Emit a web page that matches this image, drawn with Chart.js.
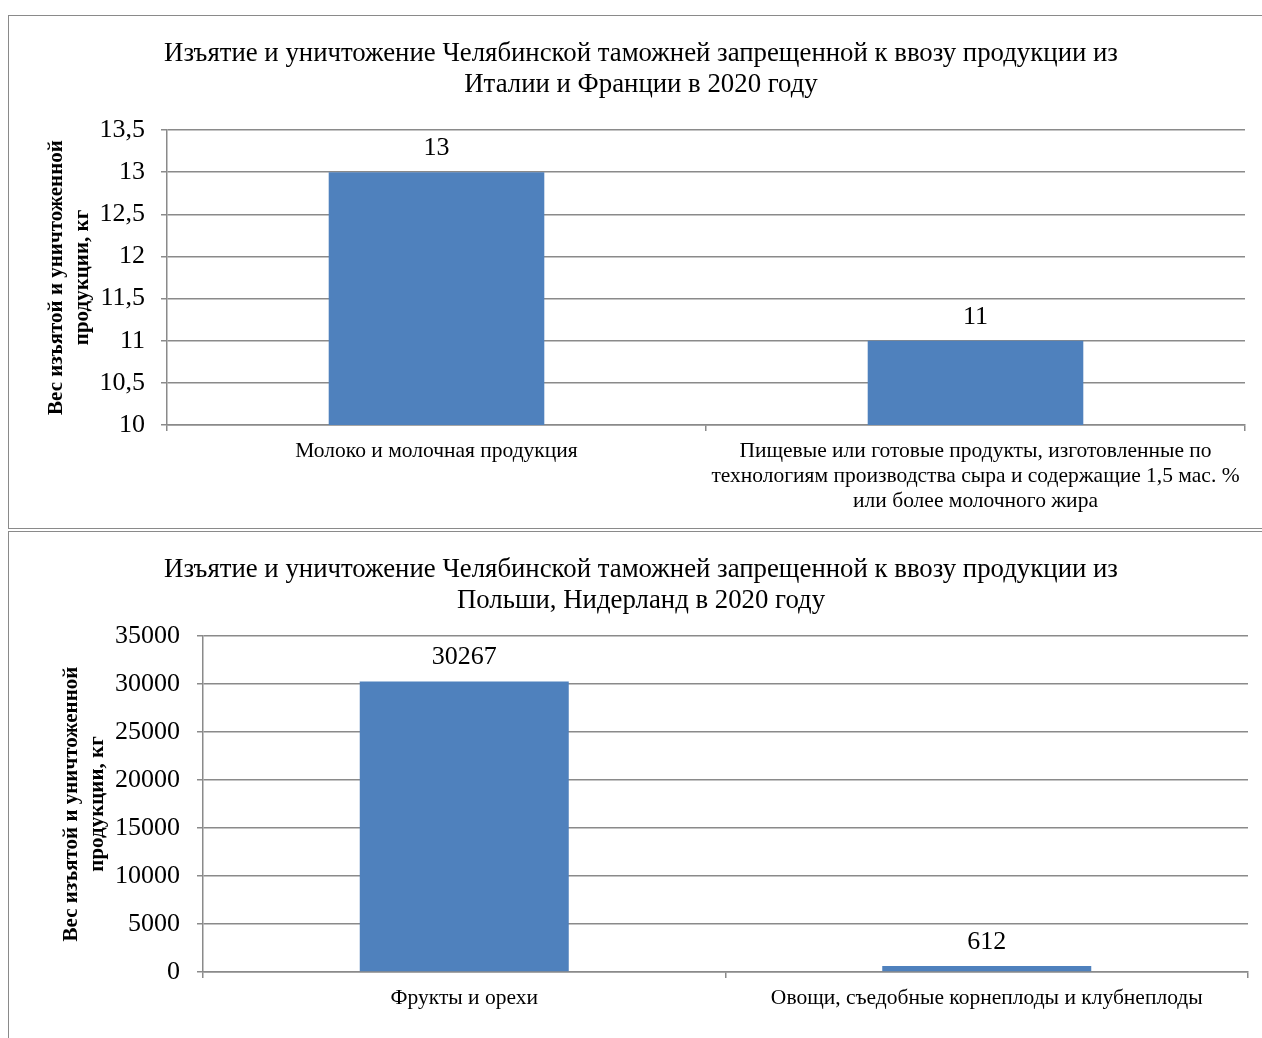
<!DOCTYPE html>
<html>
<head>
<meta charset="utf-8">
<script src="https://cdn.jsdelivr.net/npm/chart.js@4/dist/chart.umd.min.js"></script>
<style>
  html, body { margin: 0; padding: 0; background: #fff; overflow: hidden; }
  body { width: 1262px; height: 1038px; position: relative; }
  .frame-top { position: absolute; left: 8px; top: 15px; width: 1300px; height: 512px; border: 1.5px solid #8a8a8a; }
  .frame-bot { position: absolute; left: 8px; top: 531px; width: 1300px; height: 600px; border-left: 1.5px solid #8a8a8a; border-top: 1.5px solid #8a8a8a; }
  canvas { position: absolute; }
</style>
</head>
<body>
<div class="frame-top"></div>
<div class="frame-bot"></div>
<canvas id="c1" width="1253" height="511" style="left:9px;top:16px;width:1253px;height:511px"></canvas>
<canvas id="c2" width="1253" height="505" style="left:9px;top:533px;width:1253px;height:505px"></canvas>
<script>
const topTitle = ['Изъятие и уничтожение Челябинской таможней запрещенной к ввозу продукции из', 'Италии и Франции в 2020 году'];
const topCategories = [
  ['Молоко и молочная продукция'],
  ['Пищевые или готовые продукты, изготовленные по', 'технологиям производства сыра и содержащие 1,5 мас. %', 'или более молочного жира']
];
const topValues = [13, 11];
const topTicks = ['10', '10,5', '11', '11,5', '12', '12,5', '13', '13,5'];

const botTitle = ['Изъятие и уничтожение Челябинской таможней запрещенной к ввозу продукции из', 'Польши, Нидерланд в 2020 году'];
const botCategories = ['Фрукты и орехи', 'Овощи, съедобные корнеплоды и клубнеплоды'];
const botValues = [30267, 612];
const botTicks = ['0', '5000', '10000', '15000', '20000', '25000', '30000', '35000'];

const yTitle = ['Вес изъятой и уничтоженной', 'продукции, кг'];

const GRID = '#8a8a8a';
const BAR = '#4f81bd';
Chart.defaults.font.family = "'Liberation Serif', 'Times New Roman', serif";
Chart.defaults.color = '#000';

const valueLabels = {
  id: 'valueLabels',
  afterDatasetsDraw(chart) {
    const { ctx } = chart;
    const meta = chart.getDatasetMeta(0);
    ctx.save();
    ctx.font = "26px 'Liberation Serif', serif";
    ctx.fillStyle = '#000';
    ctx.textAlign = 'center';
    ctx.textBaseline = 'middle';
    meta.data.forEach((bar, i) => {
      ctx.fillText(String(chart.data.datasets[0].data[i]), bar.x, bar.y - 24);
    });
    ctx.restore();
  }
};

function makeChart(id, o) {
  return new Chart(document.getElementById(id), {
    type: 'bar',
    data: {
      labels: o.labels,
      datasets: [{ data: o.values, backgroundColor: BAR, categoryPercentage: 1, barPercentage: 0.4 }]
    },
    options: {
      responsive: false, animation: false,
      layout: { padding: { left: o.padLeft, right: o.padRight, top: 0, bottom: 0 } },
      plugins: {
        legend: { display: false }, tooltip: { enabled: false },
        title: {
          display: true, text: o.title, color: '#000',
          font: { size: 26.8, weight: 'normal', lineHeight: '31px' },
          padding: { top: o.titleTop, bottom: o.titleBottom }
        }
      },
      scales: {
        x: {
          grid: { drawOnChartArea: false, drawTicks: true, tickLength: 6, color: GRID, lineWidth: 1.5, offset: true },
          border: { display: true, color: GRID, width: 1.5 },
          ticks: { color: '#000', font: { size: 21.5, lineHeight: '25px' }, padding: 8, maxRotation: 0, autoSkip: false },
          afterFit: s => { s.height = o.xHeight; }
        },
        y: {
          min: o.min, max: o.max,
          grid: { color: GRID, lineWidth: 1.5, tickLength: 6 },
          border: { display: true, color: GRID, width: 1.5 },
          ticks: { stepSize: o.step, color: '#000', font: { size: 26 }, padding: o.tickPad, callback: (v, i) => o.ticks[i] },
          title: {
            display: true, text: yTitle, color: '#000',
            font: { size: 21, weight: 'bold', lineHeight: '26px' },
            padding: { top: o.yTitleTop, bottom: 0 }
          },
          afterFit: s => { s.width = o.yWidth; }
        }
      }
    },
    plugins: [valueLabels]
  });
}

makeChart('c1', {
  labels: topCategories, values: topValues, ticks: topTicks, title: topTitle,
  min: 10, max: 13.5, step: 0.5,
  padLeft: 28, padRight: 17, titleTop: 22, titleBottom: 30, xHeight: 102,
  yWidth: 130, tickPad: 16, yTitleTop: 7
});

makeChart('c2', {
  labels: botCategories, values: botValues, ticks: botTicks, title: botTitle,
  min: 0, max: 35000, step: 5000,
  padLeft: 25, padRight: 14, titleTop: 21, titleBottom: 20, xHeight: 66,
  yWidth: 169, tickPad: 17, yTitleTop: 25
});
</script>
</body>
</html>
